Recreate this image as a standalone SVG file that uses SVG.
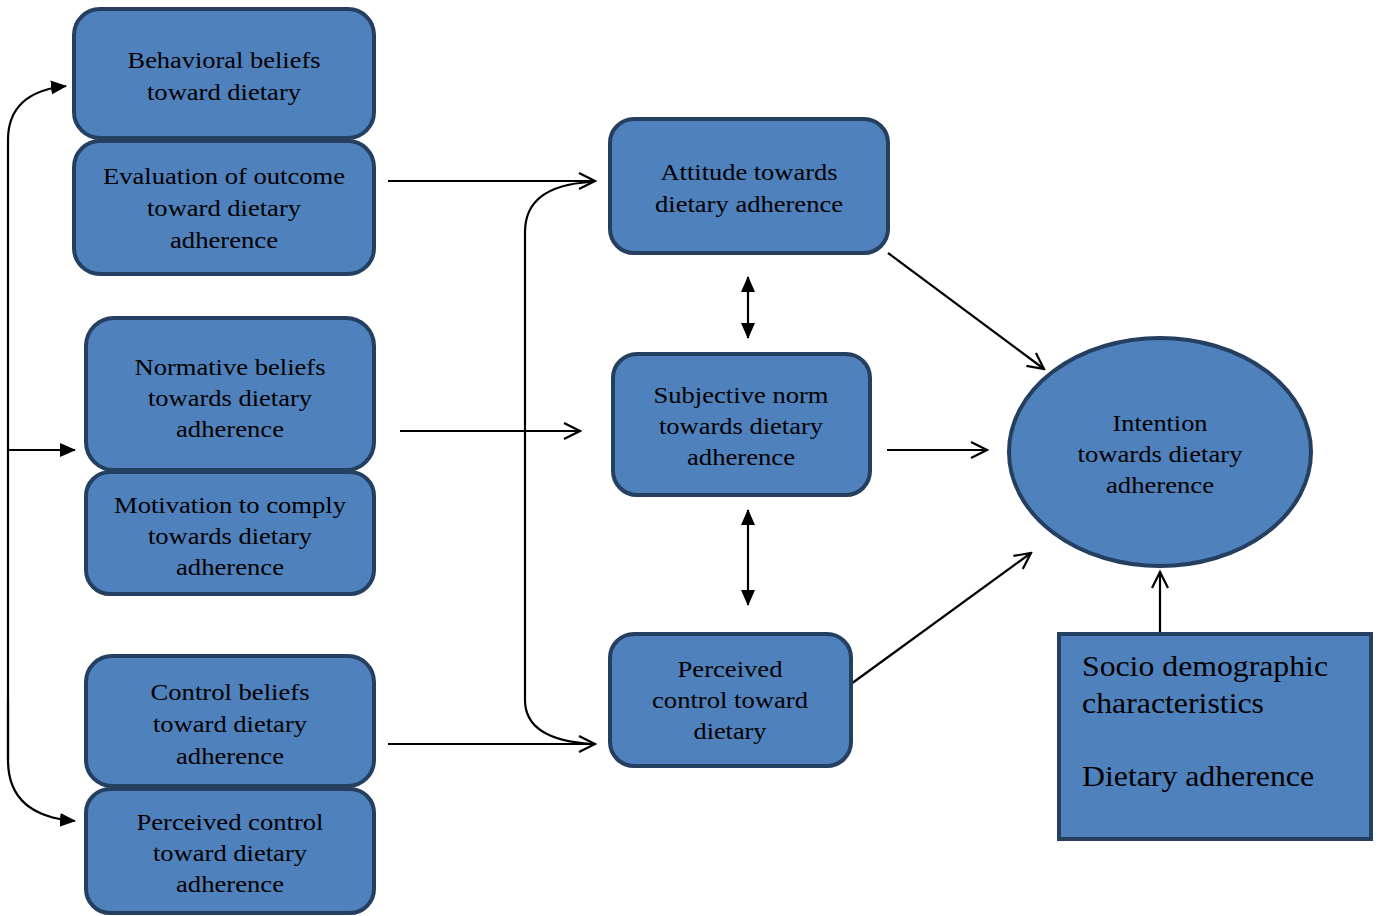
<svg xmlns="http://www.w3.org/2000/svg" width="1378" height="916" viewBox="0 0 1378 916">
<defs>
<style>
.box{fill:#4F81BD;stroke:#243F60;stroke-width:4}
.t{font-family:'Liberation Serif','Times New Roman',Tinos,'DejaVu Serif',serif;font-size:24px;fill:#000;text-anchor:middle}
.tl{font-family:'Liberation Serif','Times New Roman',Tinos,'DejaVu Serif',serif;font-size:30px;fill:#000}
.c{fill:none;stroke:#000;stroke-width:2.2}
</style>
<marker id="open" viewBox="0 0 20 20" refX="18" refY="10" markerWidth="20" markerHeight="20" markerUnits="userSpaceOnUse" orient="auto">
<path d="M2,2 L18,10 L2,18" fill="none" stroke="#000" stroke-width="2.2"/>
</marker>
<marker id="fill" viewBox="0 0 16 16" refX="15" refY="8" markerWidth="16" markerHeight="16" markerUnits="userSpaceOnUse" orient="auto">
<path d="M0,1 L16,8 L0,15 Z" fill="#000"/>
</marker>
<marker id="fillS" viewBox="0 0 16 16" refX="15" refY="8" markerWidth="16" markerHeight="16" markerUnits="userSpaceOnUse" orient="auto-start-reverse">
<path d="M0,1 L16,8 L0,15 Z" fill="#000"/>
</marker>
</defs>
<rect width="1378" height="916" fill="#fff"/>

<g id="connectors">
<path class="c" d="M8,760 L8,140 Q8,92 66,86" marker-end="url(#fill)"/>
<path class="c" d="M8,450 L75,450" marker-end="url(#fill)"/>
<path class="c" d="M8,700 L8,760 Q8,816 75,821" marker-end="url(#fill)"/>
<path class="c" d="M388,181 L595,181" marker-end="url(#open)"/>
<path class="c" d="M400,431 L580,431" marker-end="url(#open)"/>
<path class="c" d="M388,744 L595,744" marker-end="url(#open)"/>
<path class="c" d="M590,182 Q525,186 525,232 L525,700 Q525,740 592,744"/>
<path class="c" d="M748,277 L748,338" marker-start="url(#fillS)" marker-end="url(#fillS)"/>
<path class="c" d="M748,510 L748,605" marker-start="url(#fillS)" marker-end="url(#fillS)"/>
<path class="c" d="M888,253 L1044,369" marker-end="url(#open)"/>
<path class="c" d="M887,450 L987,450" marker-end="url(#open)"/>
<path class="c" d="M851,684 L1031,553" marker-end="url(#open)"/>
<path class="c" d="M1160,634 L1160,572" marker-end="url(#open)"/>
</g>

<g id="behavioral-beliefs">
<rect class="box" x="74" y="9" width="300" height="129" rx="26"/>
<text class="t" x="224" y="68" textLength="193" lengthAdjust="spacingAndGlyphs">Behavioral beliefs</text>
<text class="t" x="224" y="100" textLength="154" lengthAdjust="spacingAndGlyphs">toward dietary</text>
</g>
<g id="evaluation-outcome">
<rect class="box" x="74" y="141" width="300" height="133" rx="26"/>
<text class="t" x="224" y="184" textLength="242" lengthAdjust="spacingAndGlyphs">Evaluation of outcome</text>
<text class="t" x="224" y="216" textLength="154" lengthAdjust="spacingAndGlyphs">toward dietary</text>
<text class="t" x="224" y="248" textLength="108" lengthAdjust="spacingAndGlyphs">adherence</text>
</g>
<g id="normative-beliefs">
<rect class="box" x="86" y="318" width="288" height="152" rx="28"/>
<text class="t" x="230" y="375" textLength="191" lengthAdjust="spacingAndGlyphs">Normative beliefs</text>
<text class="t" x="230" y="406" textLength="164" lengthAdjust="spacingAndGlyphs">towards dietary</text>
<text class="t" x="230" y="437" textLength="108" lengthAdjust="spacingAndGlyphs">adherence</text>
</g>
<g id="motivation-comply">
<rect class="box" x="86" y="472" width="288" height="122" rx="24"/>
<text class="t" x="230" y="513" textLength="232" lengthAdjust="spacingAndGlyphs">Motivation to comply</text>
<text class="t" x="230" y="544" textLength="164" lengthAdjust="spacingAndGlyphs">towards dietary</text>
<text class="t" x="230" y="575" textLength="108" lengthAdjust="spacingAndGlyphs">adherence</text>
</g>
<g id="control-beliefs">
<rect class="box" x="86" y="656" width="288" height="130" rx="26"/>
<text class="t" x="230" y="700" textLength="159" lengthAdjust="spacingAndGlyphs">Control beliefs</text>
<text class="t" x="230" y="732" textLength="154" lengthAdjust="spacingAndGlyphs">toward dietary</text>
<text class="t" x="230" y="764" textLength="108" lengthAdjust="spacingAndGlyphs">adherence</text>
</g>
<g id="perceived-control-left">
<rect class="box" x="86" y="789" width="288" height="124" rx="24"/>
<text class="t" x="230" y="830" textLength="187" lengthAdjust="spacingAndGlyphs">Perceived control</text>
<text class="t" x="230" y="861" textLength="154" lengthAdjust="spacingAndGlyphs">toward dietary</text>
<text class="t" x="230" y="892" textLength="108" lengthAdjust="spacingAndGlyphs">adherence</text>
</g>
<g id="attitude">
<rect class="box" x="610" y="119" width="278" height="134" rx="24"/>
<text class="t" x="749" y="180" textLength="177" lengthAdjust="spacingAndGlyphs">Attitude towards</text>
<text class="t" x="749" y="212" textLength="188" lengthAdjust="spacingAndGlyphs">dietary adherence</text>
</g>
<g id="subjective-norm">
<rect class="box" x="613" y="354" width="257" height="141" rx="24"/>
<text class="t" x="741" y="403" textLength="175" lengthAdjust="spacingAndGlyphs">Subjective norm</text>
<text class="t" x="741" y="434" textLength="164" lengthAdjust="spacingAndGlyphs">towards dietary</text>
<text class="t" x="741" y="465" textLength="108" lengthAdjust="spacingAndGlyphs">adherence</text>
</g>
<g id="perceived-control-mid">
<rect class="box" x="610" y="634" width="241" height="132" rx="24"/>
<text class="t" x="730" y="677" textLength="105" lengthAdjust="spacingAndGlyphs">Perceived</text>
<text class="t" x="730" y="708" textLength="156" lengthAdjust="spacingAndGlyphs">control toward</text>
<text class="t" x="730" y="739" textLength="73" lengthAdjust="spacingAndGlyphs">dietary</text>
</g>
<g id="intention">
<ellipse class="box" cx="1160" cy="452" rx="151" ry="114"/>
<text class="t" x="1160" y="431" textLength="95" lengthAdjust="spacingAndGlyphs">Intention</text>
<text class="t" x="1160" y="462" textLength="165" lengthAdjust="spacingAndGlyphs">towards dietary</text>
<text class="t" x="1160" y="493" textLength="108" lengthAdjust="spacingAndGlyphs">adherence</text>
</g>
<g id="socio-demographic">
<rect class="box" x="1059" y="634" width="312" height="205"/>
<text class="tl" x="1082" y="676" textLength="246" lengthAdjust="spacingAndGlyphs">Socio demographic</text>
<text class="tl" x="1082" y="713" textLength="182" lengthAdjust="spacingAndGlyphs">characteristics</text>
<text class="tl" x="1082" y="786" textLength="232" lengthAdjust="spacingAndGlyphs">Dietary adherence</text>
</g>
</svg>
